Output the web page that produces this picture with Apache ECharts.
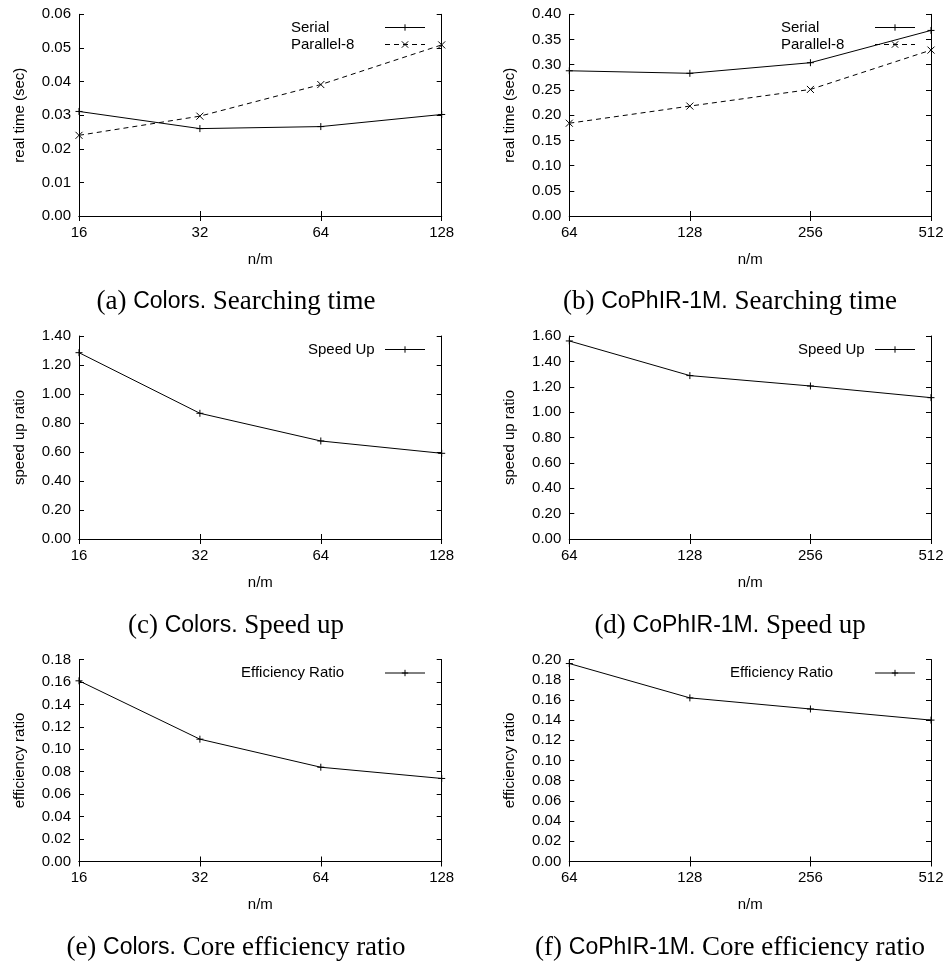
<!DOCTYPE html>
<html><head><meta charset="utf-8">
<script src="https://cdn.jsdelivr.net/npm/echarts@6/dist/echarts.min.js"></script>
<style>html,body{margin:0;padding:0;background:#fff}#c{width:950px;height:966px}</style>
</head><body><div id="c"></div><script>
// ---- data ----
const colorsN = ['16', '32', '64', '128'];
const cophirN = ['64', '128', '256', '512'];
const colorsSerial = [0.0311, 0.0260, 0.0266, 0.0302];
const colorsParallel = [0.0240, 0.0297, 0.0391, 0.0509];
const cophirSerial = [0.288, 0.283, 0.304, 0.368];
const cophirParallel = [0.184, 0.218, 0.251, 0.329];
const colorsSpeedUp = [1.285, 0.867, 0.676, 0.591];
const cophirSpeedUp = [1.561, 1.288, 1.206, 1.114];
const colorsEfficiency = [0.161, 0.109, 0.084, 0.074];
const cophirEfficiency = [0.196, 0.162, 0.151, 0.140];

const captions = [
  ['(a) ', 'Colors.', ' Searching time'],
  ['(b) ', 'CoPhIR-1M.', ' Searching time'],
  ['(c) ', 'Colors.', ' Speed up'],
  ['(d) ', 'CoPhIR-1M.', ' Speed up'],
  ['(e) ', 'Colors.', ' Core efficiency ratio'],
  ['(f) ', 'CoPhIR-1M.', ' Core efficiency ratio']
];

// ---- styling / layout ----
const FONT = 'Liberation Sans';
const PLUS = 'path://M0,5L10,5M5,0L5,10';
const CROSS = 'path://M0,0L10,10M10,0L0,10';
const COLX = [{left: 79, width: 362.7}, {left: 569.3, width: 361.7}];
const ROWY = [{top: 14.3, height: 201.7}, {top: 336, height: 203}, {top: 659.5, height: 202}];
const CAPX = [236, 730];
const CAPY = [302, 626, 948];

const panels = [
  {r: 0, c: 0, cats: colorsN, max: 0.06, interval: 0.01, yName: 'real time (sec)',
   series: [{name: 'Serial', data: colorsSerial, sym: PLUS, dash: false}, {name: 'Parallel-8', data: colorsParallel, sym: CROSS, dash: true}],
   legend: {left: 291, top: 20, tw: 89}},
  {r: 0, c: 1, cats: cophirN, max: 0.40, interval: 0.05, yName: 'real time (sec)',
   series: [{name: 'Serial', data: cophirSerial, sym: PLUS, dash: false}, {name: 'Parallel-8', data: cophirParallel, sym: CROSS, dash: true}],
   legend: {left: 781, top: 20, tw: 89}},
  {r: 1, c: 0, cats: colorsN, max: 1.40, interval: 0.2, yName: 'speed up ratio',
   series: [{name: 'Speed Up', data: colorsSpeedUp, sym: PLUS, dash: false}],
   legend: {left: 308, top: 342, tw: 72}},
  {r: 1, c: 1, cats: cophirN, max: 1.60, interval: 0.2, yName: 'speed up ratio',
   series: [{name: 'Speed Up', data: cophirSpeedUp, sym: PLUS, dash: false}],
   legend: {left: 798, top: 342, tw: 72}},
  {r: 2, c: 0, cats: colorsN, max: 0.18, interval: 0.02, yName: 'efficiency ratio',
   series: [{name: 'Efficiency Ratio', data: colorsEfficiency, sym: PLUS, dash: false}],
   legend: {left: 241, top: 665.5, tw: 139}},
  {r: 2, c: 1, cats: cophirN, max: 0.20, interval: 0.02, yName: 'efficiency ratio',
   series: [{name: 'Efficiency Ratio', data: cophirEfficiency, sym: PLUS, dash: false}],
   legend: {left: 730, top: 665.5, tw: 140}}
];

const black = '#000';
const lineAxis = {show: true, lineStyle: {color: black, width: 1}};
const tick = {show: true, inside: true, length: 5, lineStyle: {color: black, width: 1}};

const grid = [], xAxis = [], yAxis = [], series = [], legend = [], graphic = [];
panels.forEach((p, g) => {
  grid.push({left: COLX[p.c].left, width: COLX[p.c].width, top: ROWY[p.r].top, height: ROWY[p.r].height, containLabel: false});
  xAxis.push({gridIndex: g, type: 'category', data: p.cats, boundaryGap: false, position: 'bottom',
    axisLine: lineAxis, axisTick: tick, splitLine: {show: false},
    axisLabel: {color: black, fontFamily: FONT, fontSize: 15, margin: 9},
    name: 'n/m', nameLocation: 'middle', nameGap: 36,
    nameTextStyle: {color: black, fontFamily: FONT, fontSize: 15}});
  xAxis.push({gridIndex: g, type: 'category', data: p.cats, boundaryGap: false, position: 'top',
    axisLine: lineAxis, axisTick: tick, splitLine: {show: false}, axisLabel: {show: false}});
  yAxis.push({gridIndex: g, type: 'value', min: 0, max: p.max, interval: p.interval, position: 'left',
    axisLine: lineAxis, axisTick: tick, splitLine: {show: false},
    axisLabel: {color: black, fontFamily: FONT, fontSize: 15, margin: 8, formatter: v => v.toFixed(2)},
    name: p.yName, nameLocation: 'middle', nameGap: 52, nameRotate: 90,
    nameTextStyle: {color: black, fontFamily: FONT, fontSize: 15}});
  yAxis.push({gridIndex: g, type: 'value', min: 0, max: p.max, interval: p.interval, position: 'right',
    axisLine: lineAxis, axisTick: tick, splitLine: {show: false}, axisLabel: {show: false}});
  p.series.forEach(s => {
    series.push({type: 'line', name: s.name, xAxisIndex: 2 * g, yAxisIndex: 2 * g, data: s.data,
      symbol: s.sym, symbolSize: 7, showAllSymbol: true, silent: true, animation: false,
      lineStyle: {color: black, width: 1, type: s.dash ? [5, 4] : 'solid'},
      itemStyle: {color: black, borderColor: black, borderWidth: 1},
      emphasis: {disabled: true}});
  });
  legend.push({left: p.legend.left, top: p.legend.top, orient: 'vertical', align: 'right',
    padding: 0, itemGap: 2, itemWidth: 40, itemHeight: 8, selectedMode: false,
    data: p.series.map(s => s.name),
    lineStyle: {width: 1, color: black},
    itemStyle: {color: black, borderColor: black, borderWidth: 1},
    formatter: n => '{t|' + n + '}',
    textStyle: {rich: {t: {width: p.legend.tw, align: 'left', fontSize: 15, fontFamily: FONT, color: black, lineHeight: 18}}}});
  const cap = captions[g];
  graphic.push({type: 'text', x: CAPX[p.c], y: CAPY[p.r], silent: true,
    style: {text: '{s|' + cap[0] + '}{ss|' + cap[1] + '}{s|' + cap[2] + '}', align: 'center', verticalAlign: 'middle',
      rich: {s: {fontFamily: 'Liberation Serif', fontSize: 27, fill: black, color: black},
             ss: {fontFamily: FONT, fontSize: 23, fill: black, color: black}}}});
});

const chart = echarts.init(document.getElementById('c'));
chart.setOption({animation: false, backgroundColor: '#fff', grid, xAxis, yAxis, series, legend, graphic});
</script></body></html>
